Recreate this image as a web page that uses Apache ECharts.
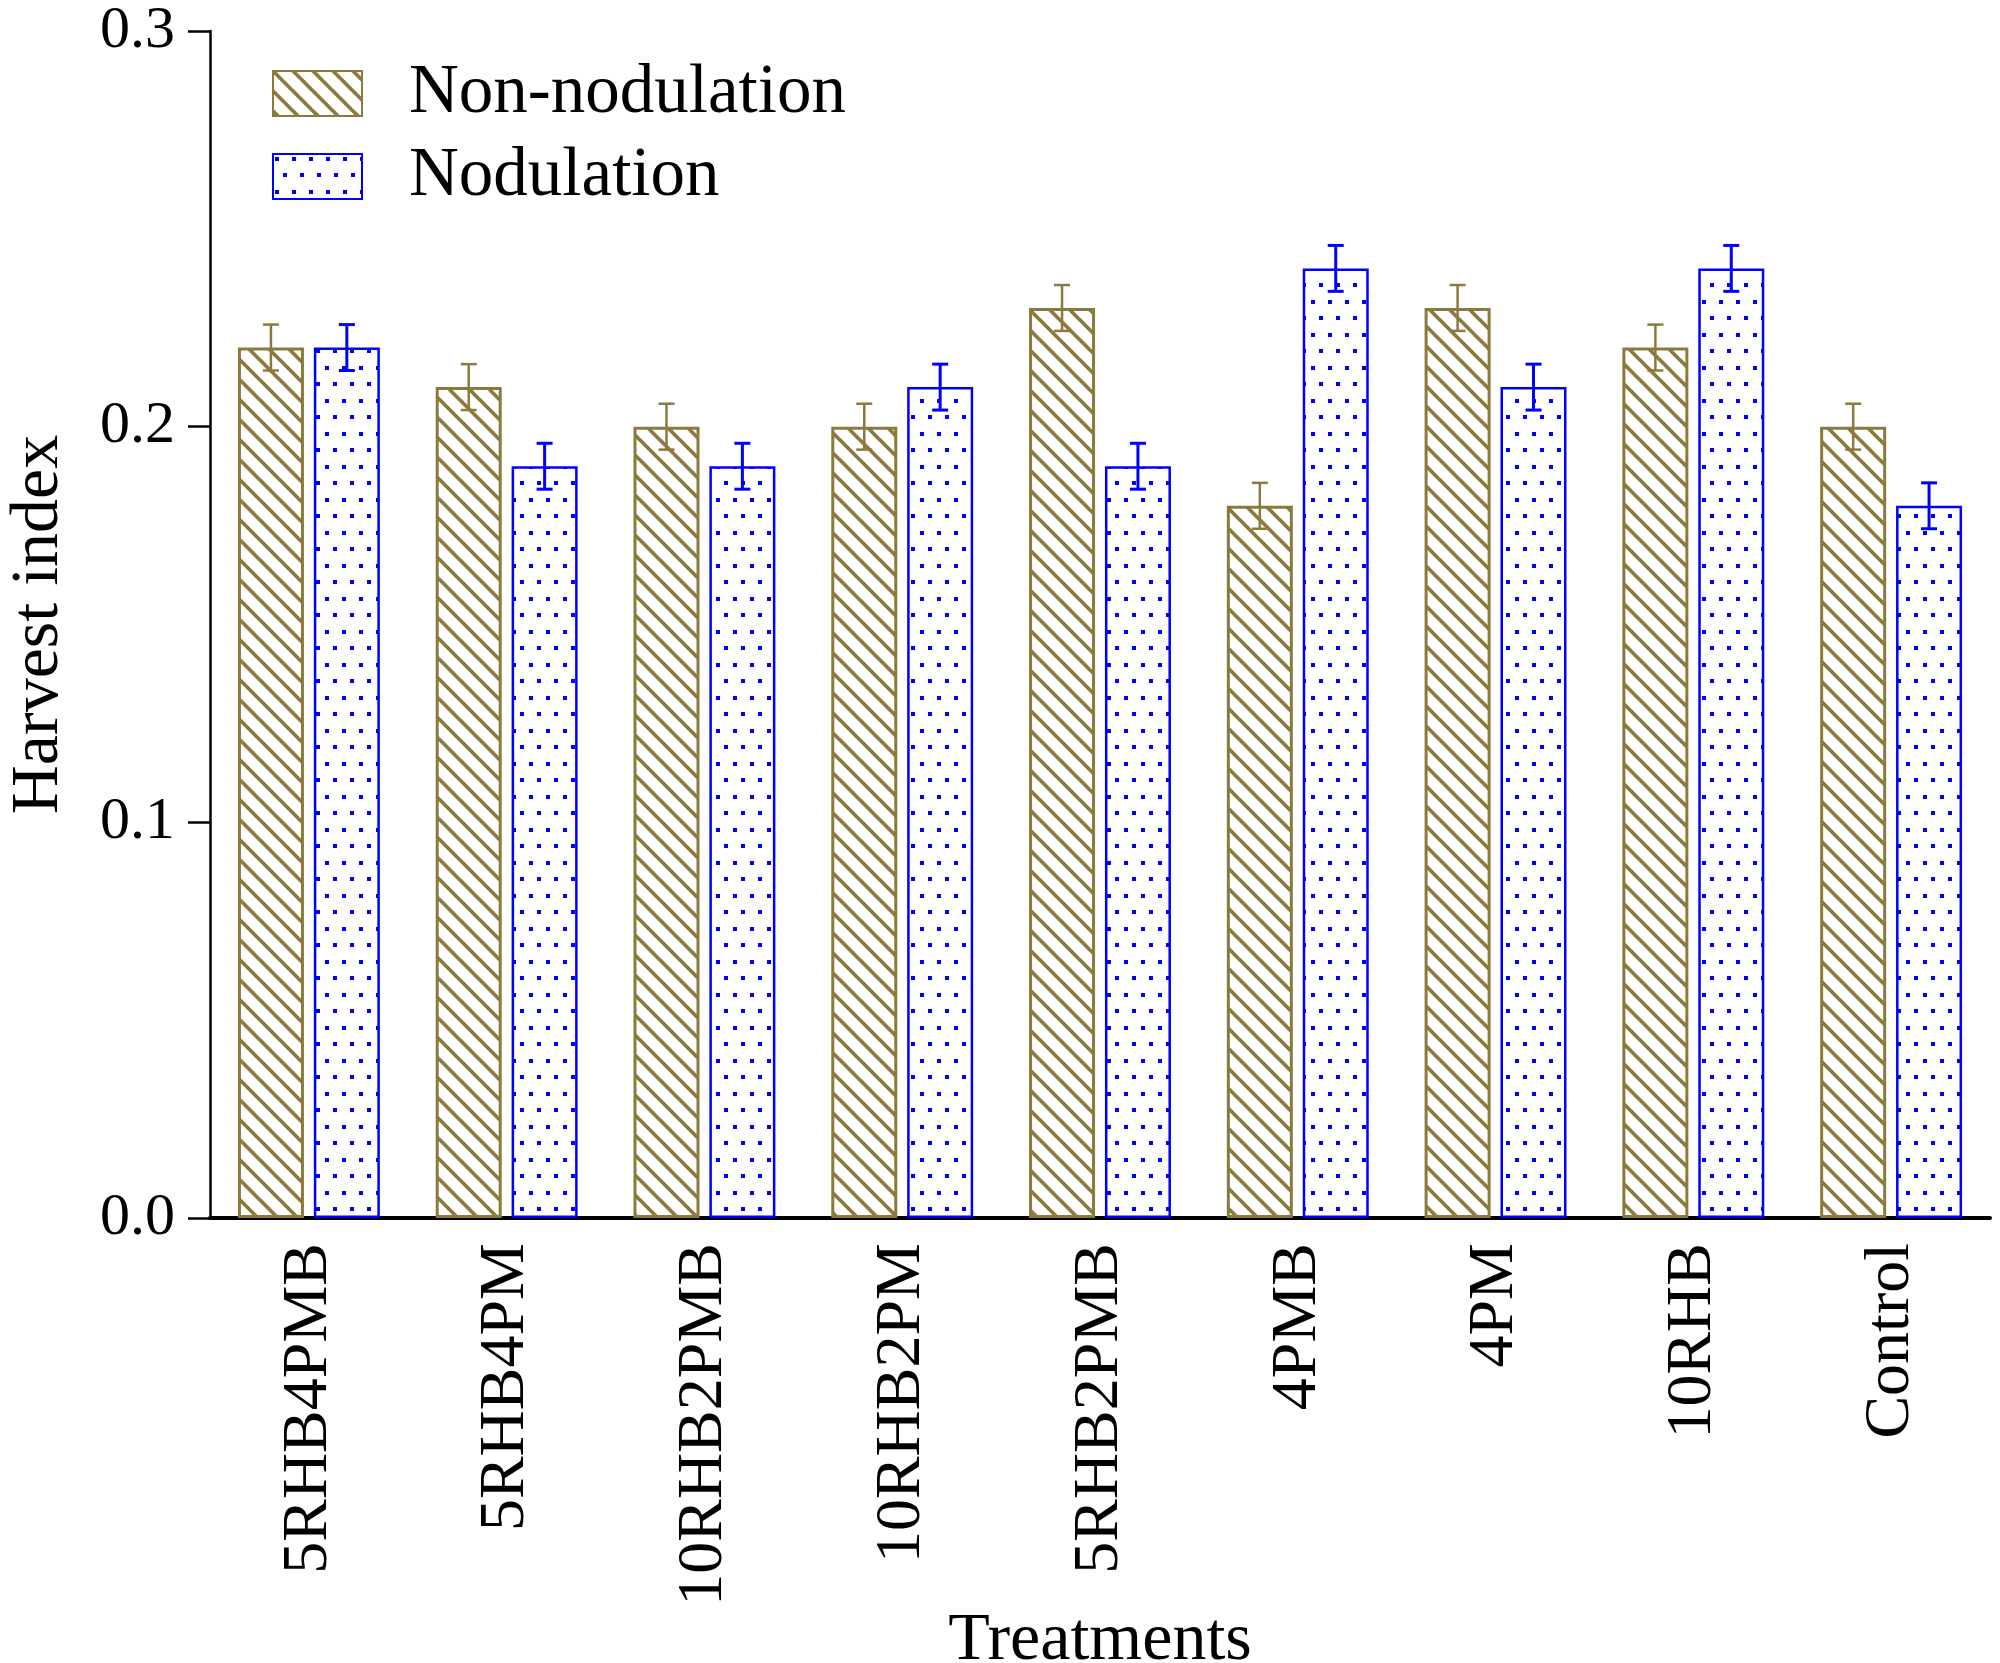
<!DOCTYPE html>
<html>
<head>
<meta charset="utf-8">
<script src="https://cdn.jsdelivr.net/npm/echarts@6/dist/echarts.min.js"></script>
<style>
html,body{margin:0;padding:0;background:#fff;}
#chart{width:2000px;height:1663px;}
</style>
</head>
<body>
<div id="chart"></div>
<script>
const categories = ['5RHB4PMB','5RHB4PM','10RHB2PMB','10RHB2PM','5RHB2PMB','4PMB','4PM','10RHB','Control'];
const nonNodulation = [0.22, 0.21, 0.20, 0.20, 0.23, 0.18, 0.23, 0.22, 0.20];
const nodulation = [0.22, 0.19, 0.19, 0.21, 0.19, 0.24, 0.21, 0.24, 0.18];
const nonNodulationErr = [0.0058, 0.0058, 0.0058, 0.0058, 0.0058, 0.0058, 0.0058, 0.0058, 0.0058];
const nodulationErr = [0.0058, 0.0058, 0.0058, 0.0058, 0.0058, 0.0058, 0.0058, 0.0058, 0.0058];
const yTicks = [0, 0.1, 0.2, 0.3];

const OLIVE = '#8c7a3c';
const BLUE = '#0000ff';
const FONT = 'Liberation Serif';

function hatchPattern() {
  const s = 20;
  const c = document.createElement('canvas');
  c.width = s; c.height = s;
  const ctx = c.getContext('2d');
  ctx.fillStyle = '#fff';
  ctx.fillRect(0, 0, s, s);
  ctx.strokeStyle = OLIVE;
  ctx.lineWidth = 3.7;
  for (let k = -1; k <= 1; k++) {
    ctx.beginPath();
    ctx.moveTo(k * s - 2, -2);
    ctx.lineTo(k * s + s + 2, s + 2);
    ctx.stroke();
  }
  return c;
}
function dotPattern() {
  const w = 17, h = 33;
  const c = document.createElement('canvas');
  c.width = w; c.height = h;
  const ctx = c.getContext('2d');
  ctx.fillStyle = '#fff';
  ctx.fillRect(0, 0, w, h);
  ctx.fillStyle = BLUE;
  ctx.fillRect(2, 3, 4, 4);
  ctx.fillRect(10, 19, 4, 4);
  return c;
}

const BAR_W = 66;
const BAR_GAP = 0.15;

function errRender(values, errs, color, side, lw) {
  return function (params, api) {
    const i = api.value(0);
    const v = values[i], e = errs[i];
    const top = api.coord([i, v + e]);
    const bot = api.coord([i, v - e]);
    const off = side * (BAR_W / 2 + BAR_W * BAR_GAP / 2);
    const x = top[0] + off;
    const cap = 8;
    const style = { stroke: color, lineWidth: lw, fill: null };
    return {
      type: 'group',
      children: [
        { type: 'line', shape: { x1: x, y1: top[1], x2: x, y2: bot[1] }, style },
        { type: 'line', shape: { x1: x - cap, y1: top[1], x2: x + cap, y2: top[1] }, style },
        { type: 'line', shape: { x1: x - cap, y1: bot[1], x2: x + cap, y2: bot[1] }, style }
      ]
    };
  };
}

const chart = echarts.init(document.getElementById('chart'));
chart.setOption({
  animation: false,
  backgroundColor: '#fff',
  grid: { left: 210, right: 10, top: 31, bottom: 445, containLabel: false, outerBoundsMode: 'none' },
  legend: {
    orient: 'vertical',
    left: 267,
    top: 54,
    itemWidth: 89,
    itemHeight: 45,
    itemGap: 14,
    icon: 'rect',
    textStyle: { fontFamily: FONT, fontSize: 69, color: '#000', padding: [0, 0, 0, 42] },
    data: ['Non-nodulation', 'Nodulation']
  },
  xAxis: {
    type: 'category',
    data: categories,
    name: 'Treatments',
    nameLocation: 'middle',
    nameGap: 389,
    nameMoveOverlap: false,
    nameTextStyle: { fontFamily: FONT, fontSize: 68, color: '#000' },
    axisLine: { lineStyle: { color: '#000', width: 4 } },
    axisTick: { show: false },
    axisLabel: { rotate: 90, margin: 25, fontFamily: FONT, fontSize: 64, color: '#000', interval: 0 }
  },
  yAxis: {
    type: 'value',
    min: yTicks[0],
    max: yTicks[yTicks.length - 1],
    interval: 0.1,
    name: 'Harvest index',
    nameLocation: 'middle',
    nameGap: 137,
    nameMoveOverlap: false,
    nameTextStyle: { fontFamily: FONT, fontSize: 68, color: '#000' },
    axisLine: { show: true, lineStyle: { color: '#000', width: 2.5 } },
    axisTick: { show: true, inside: false, length: 22, lineStyle: { color: '#000', width: 2.5 } },
    splitLine: { show: false },
    axisLabel: { margin: 35, fontFamily: FONT, fontSize: 60, color: '#000', formatter: v => v.toFixed(1) }
  },
  series: [
    {
      name: 'Non-nodulation',
      type: 'bar',
      data: nonNodulation,
      barWidth: BAR_W,
      barGap: '15%',
      itemStyle: { color: { image: hatchPattern(), repeat: 'repeat' }, borderColor: OLIVE, borderWidth: 3 }
    },
    {
      name: 'Nodulation',
      type: 'bar',
      data: nodulation,
      barWidth: BAR_W,
      barGap: '15%',
      itemStyle: { color: { image: dotPattern(), repeat: 'repeat' }, borderColor: BLUE, borderWidth: 2.5 }
    },
    {
      type: 'custom',
      name: 'errNon',
      data: categories.map((c, i) => [i]),
      renderItem: errRender(nonNodulation, nonNodulationErr, OLIVE, -1, 2.5),
      z: 10
    },
    {
      type: 'custom',
      name: 'errNod',
      data: categories.map((c, i) => [i]),
      renderItem: errRender(nodulation, nodulationErr, BLUE, 1, 3),
      z: 10
    }
  ]
});
</script>
</body>
</html>
